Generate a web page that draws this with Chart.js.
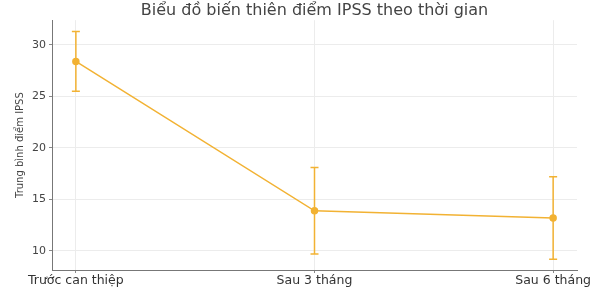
<!DOCTYPE html>
<html>
<head>
<meta charset="utf-8">
<script src="https://cdn.jsdelivr.net/npm/chart.js@4"></script>
<style>
  html, body { margin: 0; padding: 0; background: #fff; }
  #wrap { width: 602px; height: 289px; }
</style>
</head>
<body>
<div id="wrap"><canvas id="c" width="602" height="289"></canvas></div>
<script>
// data
const timepoints = ['Trước can thiệp', 'Sau 3 tháng', 'Sau 6 tháng'];
const meanScores = [28.4, 13.9, 13.2];
const sdScores = [2.9, 4.2, 4.0];
const yTicks = [10, 15, 20, 25, 30];

const lineColor = '#f2b233';

// draw error bars with the chart's own scales
const errorBars = {
  id: 'errorBars',
  afterDatasetsDraw(chart) {
    const ctx = chart.ctx;
    const xs = chart.scales.x, ys = chart.scales.y;
    ctx.save();
    ctx.strokeStyle = lineColor;
    ctx.lineWidth = 1.5;
    meanScores.forEach((m, i) => {
      const x = xs.getPixelForValue(i);
      const top = ys.getPixelForValue(m + sdScores[i]);
      const bot = ys.getPixelForValue(m - sdScores[i]);
      ctx.beginPath();
      ctx.moveTo(x, top); ctx.lineTo(x, bot);
      ctx.moveTo(x - 4, top); ctx.lineTo(x + 4, top);
      ctx.moveTo(x - 4, bot); ctx.lineTo(x + 4, bot);
      ctx.stroke();
    });
    ctx.restore();
  }
};

new Chart(document.getElementById('c'), {
  type: 'line',
  data: {
    datasets: [{
      data: meanScores.map((v, i) => ({ x: i, y: v })),
      borderColor: lineColor,
      backgroundColor: lineColor,
      borderWidth: 1.5,
      pointRadius: 3,
      pointHoverRadius: 3,
      tension: 0
    }]
  },
  options: {
    responsive: false,
    animation: false,
    layout: { padding: { left: 0, right: 25, top: 0, bottom: 0 } },
    plugins: {
      legend: { display: false },
      tooltip: { enabled: false },
      title: {
        display: true,
        fullSize: false,
        text: 'Biểu đồ biến thiên điểm IPSS theo thời gian',
        color: '#444',
        font: { family: 'DejaVu Sans', size: 16, weight: 'normal' },
        padding: { top: 1, bottom: 0 }
      }
    },
    scales: {
      x: {
        type: 'linear',
        min: -0.1,
        max: 2.1,
        afterBuildTicks: axis => { axis.ticks = timepoints.map((t, i) => ({ value: i })); },
        afterFit: axis => { axis.height = 19; },
        ticks: {
          callback: v => timepoints[v],
          color: '#333',
          font: { family: 'DejaVu Sans', size: 12.5 },
          maxRotation: 0,
          autoSkip: false,
          padding: 0
        },
        grid: { color: '#ececec', tickLength: 3, tickColor: '#888' },
        border: { color: '#777', width: 1 }
      },
      y: {
        min: 8.15,
        max: 32.4,
        afterBuildTicks: axis => { axis.ticks = yTicks.map(v => ({ value: v })); },
        afterFit: axis => { axis.width = 52; },
        ticks: {
          color: '#444',
          font: { family: 'DejaVu Sans', size: 11 },
          padding: 3
        },
        grid: { color: '#ececec', tickLength: 3, tickColor: '#888' },
        border: { color: '#777', width: 1 },
        title: {
          display: true,
          text: 'Trung bình điểm IPSS',
          color: '#444',
          font: { family: 'DejaVu Sans', size: 10 },
          padding: { top: 14, bottom: 0 }
        }
      }
    }
  },
  plugins: [errorBars]
});
</script>
</body>
</html>
